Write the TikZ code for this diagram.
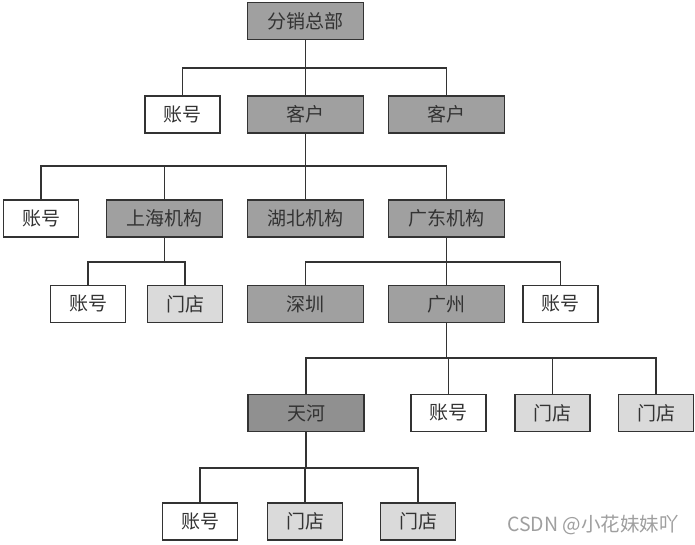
\documentclass[tikz,border=0pt]{standalone}
\usepackage{fontspec}
\usepackage{xcolor}
\newfontfamily\cjk{Noto Sans CJK SC}
\definecolor{deptgray}{HTML}{A0A0A0}
\definecolor{shopgray}{HTML}{DADADA}
\definecolor{inkgray}{HTML}{333333}

\begin{document}
\begin{tikzpicture}[x=1pt, y=-1pt,
  box/.style={draw=inkgray, line width=1.6pt, minimum height=37pt, inner sep=0pt,
    font=\cjk\fontsize{19}{21}\selectfont, text=inkgray},
  unit/.style={box, minimum width=116pt, fill=deptgray},
  acct/.style={box, minimum width=75pt, fill=white},
  shop/.style={box, minimum width=75pt, fill=shopgray},
  link/.style={draw=inkgray, line width=1.3pt}]
  % Page size and white background
  \fill[white] (0,0) rectangle (695,545);
  \useasboundingbox (0,0) rectangle (695,545);

  % Heights of the horizontal bars
  \coordinate (bar1) at (0,68);
  \coordinate (bar2) at (0,166);
  \coordinate (bar3) at (0,262);
  \coordinate (bar4) at (0,358);
  \coordinate (bar5) at (0,468);

  % Head office
  \node[unit] (hq) at (305.5,21) {分销总部};

  % Second row
  \node[acct] (acc1) at (182.5,114.5) {账号};
  \node[unit] (cust1) at (305.5,114.5) {客户};
  \node[unit] (cust2) at (446.5,114.5) {客户};

  % Regional offices
  \node[acct] (acc2) at (41,218.5) {账号};
  \node[unit] (sh) at (164.5,218.5) {上海机构};
  \node[unit] (hb) at (305.5,218.5) {湖北机构};
  \node[unit] (gd) at (446.5,218.5) {广东机构};

  % Cities
  \node[acct] (acc3) at (88,304) {账号};
  \node[shop] (shop1) at (185,304) {门店};
  \node[unit] (sz) at (305.5,304) {深圳};
  \node[unit] (gz) at (446.5,304) {广州};
  \node[acct] (acc4) at (560.5,304) {账号};

  % Under Guangzhou
  \node[unit, fill=deptgray!90!black] (th) at (306,413) {天河};
  \node[acct] (acc5) at (448.5,413) {账号};
  \node[shop] (shop2) at (552.5,413) {门店};
  \node[shop] (shop3) at (656,413) {门店};

  % Under Tianhe
  \node[acct] (acc6) at (200,521.5) {账号};
  \node[shop] (shop4) at (305,521.5) {门店};
  \node[shop] (shop5) at (418,521.5) {门店};

  % Connectors
  \foreach \kid in {acc1,cust1,cust2}
    \draw[link] (hq.south) -- (hq.south |- bar1) -| (\kid.north);
  \foreach \kid in {acc2,sh,hb,gd}
    \draw[link] (cust1.south) -- (cust1.south |- bar2) -| (\kid.north);
  \foreach \kid in {acc3,shop1}
    \draw[link] (sh.south) -- (sh.south |- bar3) -| (\kid.north);
  \foreach \kid in {sz,gz,acc4}
    \draw[link] (gd.south) -- (gd.south |- bar3) -| (\kid.north);
  \foreach \kid in {th,acc5,shop2,shop3}
    \draw[link] (gz.south) -- (gz.south |- bar4) -| (\kid.north);
  \foreach \kid in {acc6,shop4,shop5}
    \draw[link] (th.south) -- (th.south |- bar5) -| (\kid.north);

  % Watermark
  \node[text=gray!75, font=\cjk\fontsize{19.5}{21}\selectfont] (mark) at (593,525) {CSDN @小花妹妹吖};
\end{tikzpicture}
\end{document}
